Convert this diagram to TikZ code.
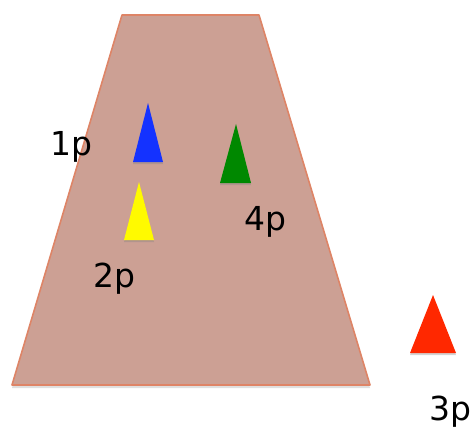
\documentclass[tikz,border=0pt]{standalone}
\usepackage{fontspec}
\setmainfont{DejaVu Sans}
\usetikzlibrary{shadows}
\definecolor{trapfill}{RGB}{204,160,148}
\definecolor{trapedge}{RGB}{222,132,102}
\definecolor{cblue}{RGB}{20,50,255}
\definecolor{cgreen}{RGB}{0,136,0}
\definecolor{cyellow}{RGB}{255,250,0}
\definecolor{cred}{RGB}{255,40,0}
\tikzset{
  trap/.style={fill=trapfill, draw=trapedge, line width=1.6pt, line join=round,
    drop shadow={opacity=0.25, shadow xshift=0pt, shadow yshift=-3pt}},
  cone/.style={draw=none, drop shadow={opacity=0.35, shadow xshift=0pt, shadow yshift=-2pt}},
  lbl/.style={anchor=base, font=\fontsize{33}{36}\selectfont, inner sep=0pt}
}
\begin{document}
\begin{tikzpicture}[x=1pt,y=1pt]
\useasboundingbox (0,0) rectangle (473,429);
% trapezoid (image y flipped: Y = 429 - y)
\path[trap] (122,414) -- (259,414) -- (370,44) -- (12,44) -- cycle;
% cones
\path[cone, fill=cblue]   (148,326) -- (163,267) -- (133,267) -- cycle;
\path[cone, fill=cgreen]  (236,305) -- (251,246) -- (220,246) -- cycle;
\path[cone, fill=cyellow] (139,247) -- (154,189) -- (124,189) -- cycle;
\path[cone, fill=cred]    (433,134) -- (456,76) -- (410,76) -- cycle;
% labels
\node[lbl] (l1) at (71,273) {1p};
\node[lbl] (l2) at (114,142) {2p};
\node[lbl] (l4) at (265,199) {4p};
\node[lbl] (l3) at (450,9) {3p};
\end{tikzpicture}
\end{document}
